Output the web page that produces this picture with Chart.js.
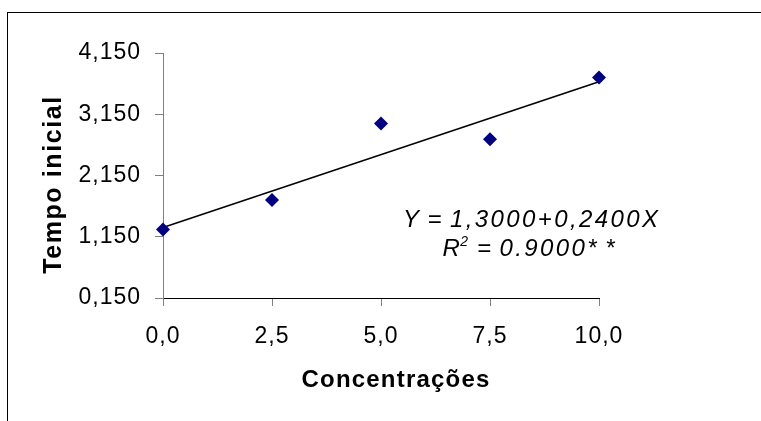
<!DOCTYPE html>
<html>
<head>
<meta charset="utf-8">
<script src="https://cdn.jsdelivr.net/npm/chart.js@4"></script>
<style>
  html, body { margin: 0; padding: 0; background: #ffffff; }
  #wrap { width: 761px; height: 421px; }
</style>
</head>
<body>
<div id="wrap"><canvas id="c" width="761" height="421"></canvas></div>
<script>
// ---- data ----
const concentrations = [0, 2.5, 5, 7.5, 10];
const tempoInicial = [1.27, 1.75, 3.00, 2.74, 3.75];
const trendX = [0, 10];
const trendY = [1.30, 3.68];
const xTickValues = [0, 2.5, 5, 7.5, 10];
const yTickValues = [0.15, 1.15, 2.15, 3.15, 4.15];
const xTitle = 'Concentrações';
const yTitle = 'Tempo inicial';
const equationLine1 = 'Y = 1,3000+0,2400X';
const equationLine2R = 'R';
const equationLine2Sup = '2';
const equationLine2Rest = ' = 0.9000* *';

const FONT = '"Liberation Sans", Arial, sans-serif';

const decorPlugin = {
  id: 'decor',
  beforeLayout(chart) { chart.ctx.letterSpacing = '1px'; },
  beforeDraw(chart) {
    const ctx = chart.ctx;
    ctx.save();
    ctx.fillStyle = '#ffffff';
    ctx.fillRect(0, 0, chart.width, chart.height);
    ctx.strokeStyle = '#000000';
    ctx.lineWidth = 1;
    ctx.strokeRect(7.5, 12.5, 900, 600);
    ctx.restore();
    ctx.letterSpacing = '1px';
  },
  afterDraw(chart) {
    const ctx = chart.ctx;
    const area = chart.chartArea;
    ctx.save();
    ctx.fillStyle = '#000000';

    // axis titles
    ctx.textAlign = 'center';
    ctx.textBaseline = 'middle';
    ctx.letterSpacing = '1.2px';
    ctx.font = 'bold 24px ' + FONT;
    ctx.fillText(xTitle, (area.left + area.right) / 2 + 15, 380);

    ctx.save();
    ctx.letterSpacing = '1.6px';
    ctx.font = 'bold 25px ' + FONT;
    ctx.translate(54, (area.top + area.bottom) / 2 + 9);
    ctx.rotate(-Math.PI / 2);
    ctx.fillText(yTitle, 0, 0);
    ctx.restore();

    // regression equation
    const LS = '2.4px';
    ctx.letterSpacing = LS;
    ctx.wordSpacing = '-3px';
    ctx.textBaseline = 'alphabetic';
    ctx.font = 'italic 24px ' + FONT;
    ctx.textAlign = 'left';
    const w1 = ctx.measureText(equationLine1).width;
    ctx.fillText(equationLine1, 403, 227);

    const cx = 403 + w1 / 2 - 2;
    const wR = ctx.measureText(equationLine2R).width;
    const wRest = ctx.measureText(equationLine2Rest).width;
    ctx.letterSpacing = '1px';
    ctx.font = 'italic 14px ' + FONT;
    const wSup = ctx.measureText(equationLine2Sup).width;
    let x = cx - (wR + wSup + wRest) / 2;
    ctx.letterSpacing = LS;
    ctx.font = 'italic 24px ' + FONT;
    ctx.fillText(equationLine2R, x, 256);
    x += wR - 2;
    ctx.letterSpacing = '1px';
    ctx.font = 'italic 14px ' + FONT;
    ctx.fillText(equationLine2Sup, x, 246);
    x += wSup + 2;
    ctx.letterSpacing = LS;
    ctx.font = 'italic 24px ' + FONT;
    ctx.fillText(equationLine2Rest, x, 256);
    ctx.restore();
  }
};

const fmtComma = (v, d) => Number(v).toFixed(d).replace('.', ',');

new Chart(document.getElementById('c'), {
  type: 'scatter',
  data: {
    datasets: [
      {
        label: yTitle,
        data: concentrations.map((c, i) => ({ x: c, y: tempoInicial[i] })),
        pointStyle: 'rectRot',
        pointRadius: 7,
        pointHoverRadius: 7,
        backgroundColor: '#000080',
        borderColor: '#000080',
        borderWidth: 0,
        clip: false
      },
      {
        label: 'trend',
        data: trendX.map((c, i) => ({ x: c, y: trendY[i] })),
        showLine: true,
        pointRadius: 0,
        borderColor: '#000000',
        borderWidth: 1.5,
        clip: false
      }
    ]
  },
  options: {
    responsive: false,
    animation: false,
    events: [],
    layout: { padding: { top: 53, right: 162, left: 0, bottom: 0 } },
    plugins: { legend: { display: false }, tooltip: { enabled: false } },
    scales: {
      x: {
        type: 'linear',
        min: 0,
        max: 10,
        afterBuildTicks: (s) => { s.ticks = xTickValues.map(v => ({ value: v })); },
        afterFit: (s) => { s.height = 123; },
        ticks: {
          color: '#000000',
          font: { family: FONT, size: 23 },
          padding: 17,
          maxRotation: 0,
          autoSkip: false,
          callback: (v) => fmtComma(v, 1)
        },
        grid: { drawOnChartArea: false, drawTicks: true, tickLength: 8, color: '#808080' },
        border: { display: true, color: '#000000', width: 1 },
        title: { display: false }
      },
      y: {
        type: 'linear',
        min: 0.15,
        max: 4.15,
        afterBuildTicks: (s) => { s.ticks = yTickValues.map(v => ({ value: v })); },
        afterFit: (s) => { s.width = 163; },
        ticks: {
          color: '#000000',
          font: { family: FONT, size: 23 },
          padding: 14,
          autoSkip: false,
          callback: (v) => fmtComma(v, 3)
        },
        grid: { drawOnChartArea: false, drawTicks: true, tickLength: 8, color: '#808080' },
        border: { display: true, color: '#808080', width: 1 },
        title: { display: false }
      }
    }
  },
  plugins: [decorPlugin]
});
</script>
</body>
</html>
